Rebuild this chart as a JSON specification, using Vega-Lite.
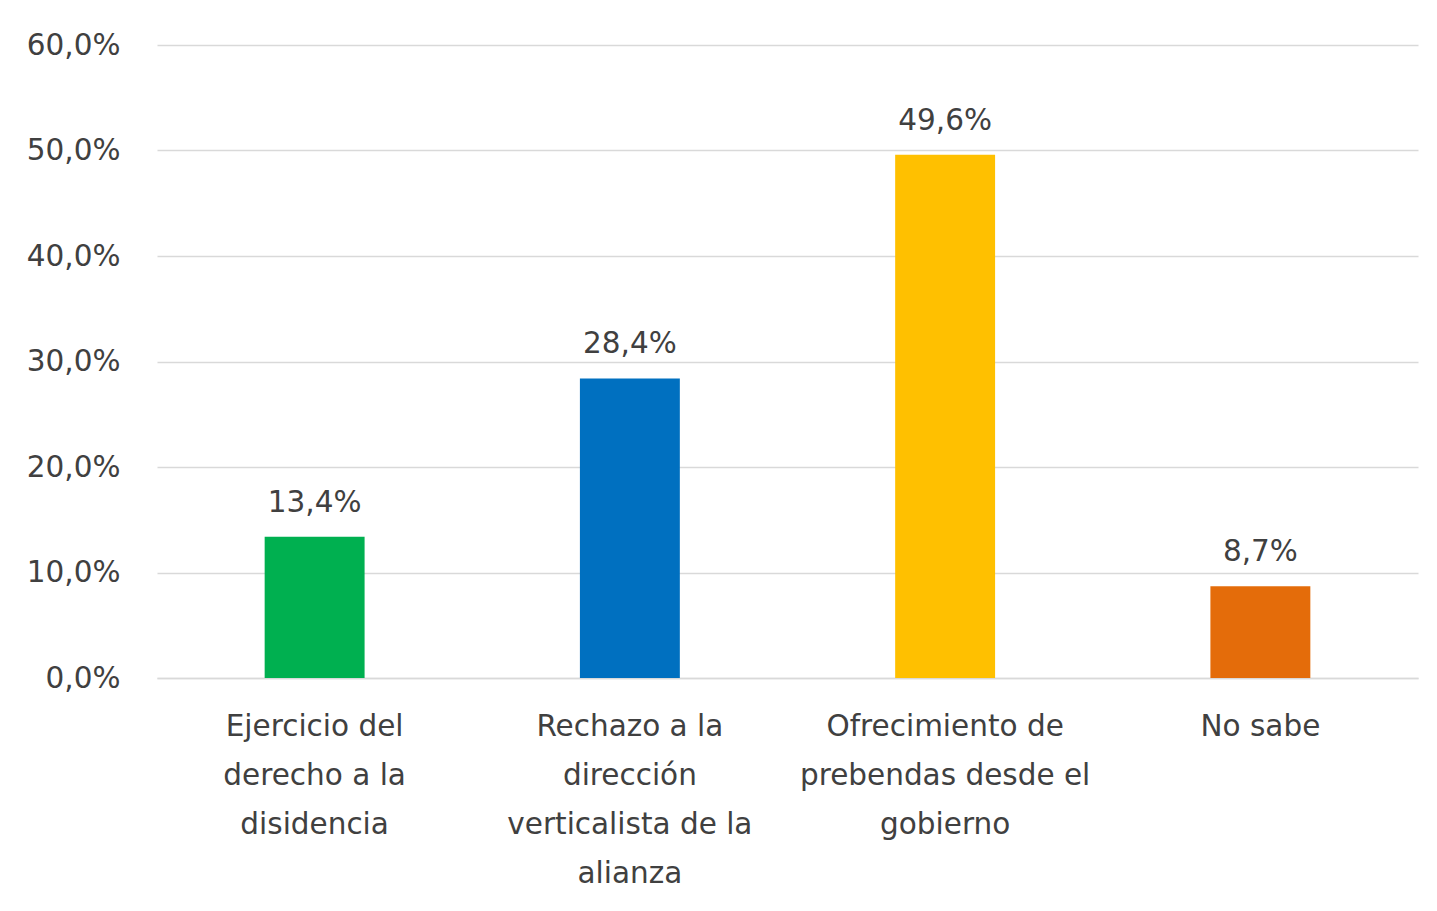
{
  "$schema": "https://vega.github.io/schema/vega-lite/v6.json",
  "width": 1261,
  "height": 633,
  "autosize": {"type": "none"},
  "padding": {"left": 157, "top": 45, "right": 19, "bottom": 233},
  "background": "white",
  "config": {
    "locale": {"number": {"decimal": ",", "thousands": ".", "grouping": [3], "currency": ["", "€"]}},
    "view": {"stroke": null},
    "font": "DejaVu Sans"
  },
  "data": {
    "values": [
      {"categoria": "Ejercicio del derecho a la disidencia", "valor": 0.134},
      {"categoria": "Rechazo a la dirección verticalista de la alianza", "valor": 0.284},
      {"categoria": "Ofrecimiento de prebendas desde el gobierno", "valor": 0.496},
      {"categoria": "No sabe", "valor": 0.087}
    ]
  },
  "encoding": {
    "x": {
      "field": "categoria",
      "type": "nominal",
      "sort": null,
      "scale": {"paddingInner": 0.683, "paddingOuter": 0.3415},
      "axis": {
        "title": null,
        "labelAngle": 0,
        "ticks": false,
        "domain": true,
        "domainColor": "#d9d9d9",
        "domainWidth": 1.5,
        "labelFont": "DejaVu Sans",
        "labelFontSize": 29.5,
        "labelColor": "#404040",
        "labelPadding": 34,
        "labelLineHeight": 49,
        "labelBaseline": "top",
        "labelLimit": 400,
        "labelOverlap": false,
        "labelExpr": "datum.label == 'Ejercicio del derecho a la disidencia' ? ['Ejercicio del', 'derecho a la', 'disidencia'] : datum.label == 'Rechazo a la dirección verticalista de la alianza' ? ['Rechazo a la', 'dirección', 'verticalista de la', 'alianza'] : datum.label == 'Ofrecimiento de prebendas desde el gobierno' ? ['Ofrecimiento de', 'prebendas desde el', 'gobierno'] : datum.label"
      }
    },
    "y": {
      "field": "valor",
      "type": "quantitative",
      "scale": {"domain": [0, 0.6], "nice": false},
      "axis": {
        "title": null,
        "format": ".1%",
        "values": [0, 0.1, 0.2, 0.3, 0.4, 0.5, 0.6],
        "ticks": false,
        "domain": false,
        "gridColor": "#d9d9d9",
        "gridWidth": 1.5,
        "labelOverlap": false,
        "labelFont": "DejaVu Sans",
        "labelFontSize": 29.5,
        "labelColor": "#404040",
        "labelPadding": 37
      }
    }
  },
  "layer": [
    {
      "mark": {"type": "bar"},
      "encoding": {
        "color": {
          "field": "categoria",
          "type": "nominal",
          "legend": null,
          "scale": {
            "domain": ["Ejercicio del derecho a la disidencia", "Rechazo a la dirección verticalista de la alianza", "Ofrecimiento de prebendas desde el gobierno", "No sabe"],
            "range": ["#00B050", "#0070C0", "#FFC000", "#E46C0A"]
          }
        }
      }
    },
    {
      "mark": {"type": "text", "baseline": "alphabetic", "dy": -25, "font": "DejaVu Sans", "fontSize": 29.5, "color": "#404040"},
      "encoding": {
        "text": {"field": "valor", "type": "quantitative", "format": ".1%"}
      }
    }
  ]
}
